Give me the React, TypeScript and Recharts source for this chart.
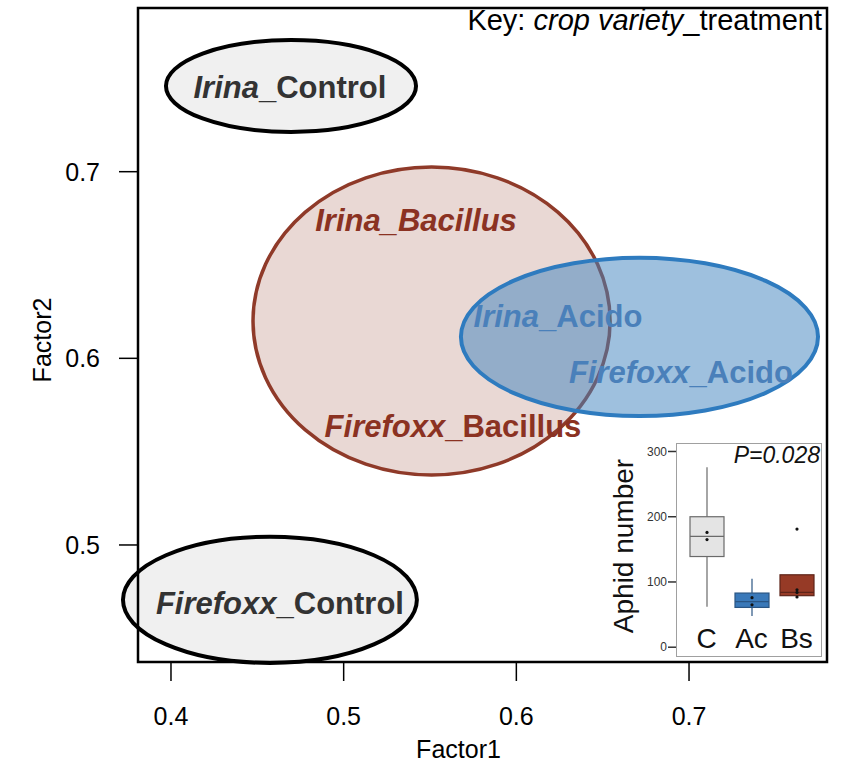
import React from 'react';
import { ComposedChart, XAxis, YAxis, ReferenceArea, Scatter, Bar, Label } from 'recharts';

const FONT = '"Liberation Sans", Arial, Helvetica, sans-serif';

// ---- main ordination plot ----
const xDomain = [0.3809, 0.7799];
const yDomain = [0.4373, 0.7877];
const xTicks = [0.4, 0.5, 0.6, 0.7];
const yTicks = [0.5, 0.6, 0.7];

// ellipses: centre and semi-axes in Factor1 / Factor2 units
const ellipseNames = ['Irina_Control', 'Firefoxx_Control', 'Bacillus', 'Acido'];
const ellipseCx = [0.4695, 0.4573, 0.5509, 0.6713];
const ellipseCy = [0.7459, 0.4706, 0.62, 0.6115];
const ellipseRx = [0.0724, 0.0851, 0.1034, 0.1034];
const ellipseRy = [0.0246, 0.0338, 0.0825, 0.0424];

// group labels
const labelVariety = ['Irina', 'Firefoxx', 'Irina', 'Firefoxx', 'Irina', 'Firefoxx'];
const labelTreatment = ['Control', 'Control', 'Bacillus', 'Bacillus', 'Acido', 'Acido'];
const labelX = [0.4689, 0.4631, 0.5419, 0.5633, 0.6241, 0.6953];
const labelY = [0.7454, 0.469, 0.6741, 0.5638, 0.6227, 0.5927];
const fullyItalic = ['Irina_Bacillus'];

// ---- inset box plot ----
const boxCats = ['C', 'Ac', 'Bs'];
const boxLow = [62, 48, 76];
const boxQ1 = [139, 61, 79];
const boxMedian = [170, 70, 84];
const boxQ3 = [200, 83, 111];
const boxHigh = [276, 105, 111];
const boxPoints = [[176, 165], [76, 65], [181, 88, 84, 77]];
const insetTicks = [0, 100, 200, 300];

const ellipseStyle: Record<string, any> = {
  Irina_Control: { fill: '#f0f0f0', stroke: '#000', strokeWidth: 4 },
  Firefoxx_Control: { fill: '#f0f0f0', stroke: '#000', strokeWidth: 4 },
  Bacillus: { fill: 'rgba(143,58,41,0.2)', stroke: '#8f3a29', strokeWidth: 3.5 },
  Acido: { fill: 'rgba(69,135,192,0.52)', stroke: '#2e7bbf', strokeWidth: 4 },
};

const labelColor: Record<string, string> = {
  Control: '#333333',
  Bacillus: '#8b3222',
  Acido: '#4a80ba',
};

const boxStyle: Record<string, any> = {
  C: { fill: '#e4e4e4', stroke: '#6a6a6a' },
  Ac: { fill: '#3a79b9', stroke: '#2a5583' },
  Bs: { fill: '#963a26', stroke: '#5e2418' },
};

const labelData = labelVariety.map((v, i) => ({
  x: labelX[i],
  y: labelY[i],
  variety: v,
  treatment: labelTreatment[i],
}));

const boxData = boxCats.map((c, i) => ({
  cat: c,
  lo: boxLow[i],
  q1: boxQ1[i],
  med: boxMedian[i],
  q3: boxQ3[i],
  hi: boxHigh[i],
  pts: boxPoints[i],
}));

const EllipseShape = (name: string) => (p: any) => {
  const st = ellipseStyle[name];
  return (
    <ellipse
      cx={p.x + p.width / 2}
      cy={p.y + p.height / 2}
      rx={Math.abs(p.width) / 2}
      ry={Math.abs(p.height) / 2}
      fill={st.fill}
      stroke={st.stroke}
      strokeWidth={st.strokeWidth}
    />
  );
};

const GroupLabel = (props: any) => {
  const { cx, cy, payload } = props;
  const full = `${payload.variety}_${payload.treatment}`;
  const italicAll = fullyItalic.includes(full);
  return (
    <text
      x={cx}
      y={cy}
      dy="0.36em"
      textAnchor="middle"
      fontFamily={FONT}
      fontWeight="bold"
      fontSize={31}
      fill={labelColor[payload.treatment]}
    >
      <tspan fontStyle="italic">{payload.variety}</tspan>
      <tspan fontStyle={italicAll ? 'italic' : 'normal'}>_{payload.treatment}</tspan>
    </text>
  );
};

const BoxShape = (props: any) => {
  const { x, y, width, height, payload } = props;
  const { q1, q3, lo, hi, med, pts, cat } = payload;
  const k = height / (q3 - q1);
  const toY = (v: number) => y + (q3 - v) * k;
  const cx = x + width / 2;
  const st = boxStyle[cat];
  return (
    <g>
      <line x1={cx} x2={cx} y1={toY(hi)} y2={y} stroke={st.stroke} strokeWidth={1.2} />
      <line x1={cx} x2={cx} y1={y + height} y2={toY(lo)} stroke={st.stroke} strokeWidth={1.2} />
      <rect x={x} y={y} width={width} height={height} fill={st.fill} stroke={st.stroke} strokeWidth={1.2} />
      <line x1={x} x2={x + width} y1={toY(med)} y2={toY(med)} stroke={st.stroke} strokeWidth={1.2} />
      {pts.map((v: number, i: number) => (
        <circle key={i} cx={cx} cy={toY(v)} r={1.6} fill="#111" />
      ))}
    </g>
  );
};

const CatTick = (props: any) => {
  const { x, y, payload } = props;
  return (
    <text x={x} y={y - 9} textAnchor="middle" fontFamily={FONT} fontSize={28} fill="#111">
      {payload.value}
    </text>
  );
};

export default function App() {
  return (
    <div style={{ position: 'absolute', left: 0, top: 0, width: 849, height: 762, background: '#fff', fontFamily: FONT }}>
      <ComposedChart width={849} height={762} margin={{ top: 8, right: 22, bottom: 0, left: 0 }}>
        <XAxis
          dataKey="x"
          type="number"
          domain={xDomain}
          allowDataOverflow
          ticks={xTicks}
          tickFormatter={(v) => v.toFixed(1)}
          height={100}
          axisLine={false}
          tickSize={19}
          tickMargin={26}
          tickLine={{ stroke: '#000', strokeWidth: 1.5 }}
          tick={{ fill: '#000', fontSize: 25, fontFamily: FONT }}
        >
          <Label value="Factor1" position="insideBottom" offset={4} dx={-24} style={{ fontSize: 25, fill: '#000', fontFamily: FONT }} />
        </XAxis>
        <YAxis
          dataKey="y"
          type="number"
          domain={yDomain}
          allowDataOverflow
          ticks={yTicks}
          tickFormatter={(v) => v.toFixed(1)}
          width={138}
          axisLine={false}
          tickSize={19}
          tickMargin={19}
          tickLine={{ stroke: '#000', strokeWidth: 1.5 }}
          tick={{ fill: '#000', fontSize: 25, fontFamily: FONT }}
        >
          <Label value="Factor2" position="center" angle={-90} dx={-27} dy={5} style={{ fontSize: 25, fill: '#000', fontFamily: FONT }} />
        </YAxis>

        {ellipseNames.map((name, i) => (
          <ReferenceArea
            key={name}
            x1={ellipseCx[i] - ellipseRx[i]}
            x2={ellipseCx[i] + ellipseRx[i]}
            y1={ellipseCy[i] - ellipseRy[i]}
            y2={ellipseCy[i] + ellipseRy[i]}
            ifOverflow="visible"
            shape={EllipseShape(name)}
          />
        ))}

        <ReferenceArea
          x1={xDomain[0]}
          x2={xDomain[1]}
          y1={yDomain[0]}
          y2={yDomain[1]}
          ifOverflow="visible"
          fill="none"
          fillOpacity={0}
          stroke="#000"
          strokeWidth={2.5}
        />

        <Scatter data={labelData} dataKey="y" shape={GroupLabel} isAnimationActive={false} />
      </ComposedChart>

      <div style={{ position: 'absolute', left: 420, top: 6, width: 402, textAlign: 'right', fontSize: 29, lineHeight: 1, color: '#000', whiteSpace: 'nowrap' }}>
        Key: <i>crop variety</i>_treatment
      </div>

      <div style={{ position: 'absolute', left: 676, top: 443, width: 146, height: 214, boxSizing: 'border-box', border: '1.5px solid #a0a0a0', background: '#fff' }} />

      <div style={{ position: 'absolute', left: 596, top: 436 }}>
        <ComposedChart width={230} height={226} data={boxData} margin={{ top: 7, right: 4, bottom: 0, left: 0 }}>
          <XAxis
            dataKey="cat"
            type="category"
            height={5}
            padding={{ left: 8, right: 3 }}
            axisLine={false}
            tickLine={false}
            tickSize={0}
            tickMargin={0}
            tick={CatTick}
            interval={0}
          />
          <YAxis
            type="number"
            domain={[-15, 313]}
            allowDataOverflow
            ticks={insetTicks}
            width={80}
            axisLine={false}
            tickSize={8}
            tickMargin={1}
            tickLine={{ stroke: '#333', strokeWidth: 1.5 }}
            tick={{ fill: '#333', fontSize: 12, fontFamily: FONT }}
          >
            <Label value="Aphid number" position="center" angle={-90} dx={-13} dy={-4} style={{ fontSize: 28, fill: '#111', fontFamily: FONT }} />
          </YAxis>
          <Bar dataKey={(d: any) => [d.q1, d.q3]} barSize={34} shape={BoxShape} isAnimationActive={false} />
        </ComposedChart>
      </div>

      <div style={{ position: 'absolute', left: 700, top: 444, width: 120, textAlign: 'right', fontSize: 23, lineHeight: 1, fontStyle: 'italic', color: '#111' }}>
        P=0.028
      </div>
    </div>
  );
}
